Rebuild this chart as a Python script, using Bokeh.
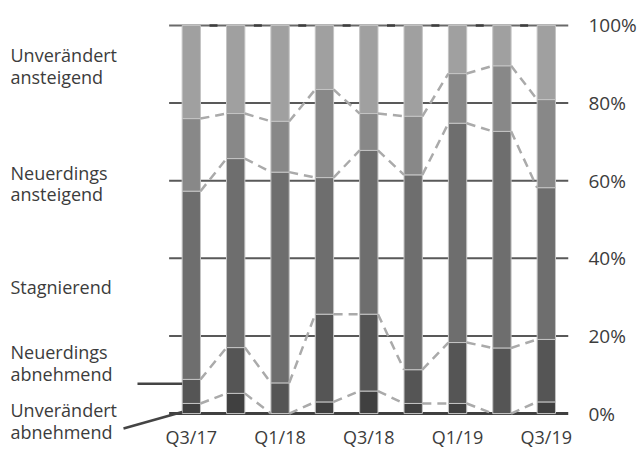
from bokeh.plotting import figure
from bokeh.models import ColumnDataSource, Range1d, LinearAxis, FixedTicker, PrintfTickFormatter
from bokeh.core.properties import value
from bokeh.embed import file_html
from bokeh.resources import INLINE

# Quarterly shares (%) of each development category
quarters = ["Q3/17", "Q4/17", "Q1/18", "Q2/18", "Q3/18", "Q4/18", "Q1/19", "Q2/19", "Q3/19"]
unv_abnehmend = [2.6, 5.2, 0.0, 3.0, 5.8, 2.6, 2.6, 0.0, 3.0]
neu_abnehmend = [6.2, 11.8, 7.9, 22.6, 19.8, 8.7, 15.7, 16.9, 16.1]
stagnierend = [48.5, 48.7, 54.3, 35.2, 42.2, 50.2, 56.5, 55.8, 39.1]
neu_ansteigend = [18.7, 11.6, 13.1, 22.7, 9.5, 15.1, 12.8, 16.9, 22.7]
unv_ansteigend = [24.0, 22.7, 24.7, 16.5, 22.7, 23.4, 12.4, 10.4, 19.1]

series = ["unv_ab", "neu_ab", "stag", "neu_an", "unv_an"]
colors = ["#404040", "#555555", "#6e6e6e", "#888888", "#a0a0a0"]
pct_ticks = [0, 20, 40, 60, 80, 100]
label_ticks = [0, 2, 4, 6, 8]

FONT = "Open Sans"
TEXT_COLOR = "#3c3c3c"
BAR_W = 0.413

xs = list(range(len(quarters)))
source = ColumnDataSource(dict(
    x=xs, unv_ab=unv_abnehmend, neu_ab=neu_abnehmend, stag=stagnierend,
    neu_an=neu_ansteigend, unv_an=unv_ansteigend,
))

p = figure(
    frame_width=568, frame_height=392,
    x_range=Range1d(-4.30, 8.50), y_range=Range1d(-0.5, 100.5),
    output_backend="svg", toolbar_location=None,
    min_border_left=0, min_border_right=72, min_border_top=23, min_border_bottom=35,
    outline_line_color=None, background_fill_color="white", border_fill_color="white",
)
p.xaxis.visible = False
p.yaxis.visible = False
p.xgrid.visible = False
p.ygrid.visible = False

# horizontal rules spanning only the bar area
grid_y = [t for t in pct_ticks]
grid_col = ["#404040"] + ["#595959"] * (len(grid_y) - 2) + ["#6a6a6a"]
grid_w = [3] + [2] * (len(grid_y) - 1)
p.segment(x0=[-0.5] * len(grid_y), x1=[len(quarters) - 0.5] * len(grid_y),
          y0=grid_y, y1=grid_y, line_color=grid_col, line_width=grid_w)

# small dark marks on the top rule between neighbouring bars
gaps = [(xs[i] + xs[i + 1]) / 2 for i in range(len(xs) - 1)]
p.segment(x0=[g - 0.09 for g in gaps], x1=[g + 0.09 for g in gaps],
          y0=[pct_ticks[-1]] * len(gaps), y1=[pct_ticks[-1]] * len(gaps),
          line_color="#3e3e3e", line_width=2.5)

p.vbar_stack(series, x="x", width=BAR_W, source=source, fill_color=colors,
             line_color="#c4c4c4", line_width=1)

# dashed connectors between the cumulative boundaries of neighbouring bars
cols = [unv_abnehmend, neu_abnehmend, stagnierend, neu_ansteigend]
cum = []
run = [0.0] * len(quarters)
for c in cols:
    run = [a + b for a, b in zip(run, c)]
    cum.append(run)
sx0, sx1, sy0, sy1 = [], [], [], []
for level in cum:
    for i in range(len(quarters) - 1):
        sx0.append(xs[i] + BAR_W / 2)
        sx1.append(xs[i + 1] - BAR_W / 2)
        sy0.append(level[i])
        sy1.append(level[i + 1])
p.segment(x0=sx0, x1=sx1, y0=sy0, y1=sy1, line_color="#aaaaaa",
          line_width=2.5, line_dash="9 6")

# bottom axis with quarter labels
xaxis = LinearAxis(ticker=FixedTicker(ticks=label_ticks),
                   major_label_overrides={t: quarters[t] for t in label_ticks})
xaxis.axis_line_color = None
xaxis.major_tick_line_color = None
xaxis.minor_tick_line_color = None
xaxis.major_tick_out = 0
xaxis.major_tick_in = 0
xaxis.major_label_standoff = 9
xaxis.major_label_text_font = FONT
xaxis.major_label_text_font_size = "18px"
xaxis.major_label_text_color = TEXT_COLOR
p.add_layout(xaxis, "below")

# right axis with percentages
yaxis = LinearAxis(ticker=FixedTicker(ticks=pct_ticks),
                   formatter=PrintfTickFormatter(format="%d%%"))
yaxis.axis_line_color = None
yaxis.major_tick_line_color = None
yaxis.minor_tick_line_color = None
yaxis.major_tick_out = 0
yaxis.major_tick_in = 0
yaxis.major_label_standoff = 20
yaxis.major_label_text_font = FONT
yaxis.major_label_text_font_size = "19px"
yaxis.major_label_text_color = TEXT_COLOR
p.add_layout(yaxis, "right")

# category names on the left
lab_x = -4.075
lab_text = ["Unverändert", "ansteigend", "Neuerdings", "ansteigend", "Stagnierend",
            "Neuerdings", "abnehmend", "Unverändert", "abnehmend"]
lab_y = [92.5, 86.6, 62.1, 56.5, 32.5, 15.9, 10.2, 1.0, -4.7]
t = p.text(x=[lab_x] * len(lab_text), y=lab_y, text=lab_text,
           text_font=value(FONT), text_font_size="18px", text_color=TEXT_COLOR,
           text_baseline="alphabetic", text_align="left")
t.level = "overlay"

# leader lines from the lower names to the first bar
ld = p.segment(x0=[-1.213, -1.528], y0=[7.66, -3.85],
               x1=[-BAR_W / 2, -BAR_W / 2], y1=[7.66, 0.4],
               line_color="#444444", line_width=2.5)
ld.level = "overlay"

open("out.html", "w").write(file_html(p, INLINE))
